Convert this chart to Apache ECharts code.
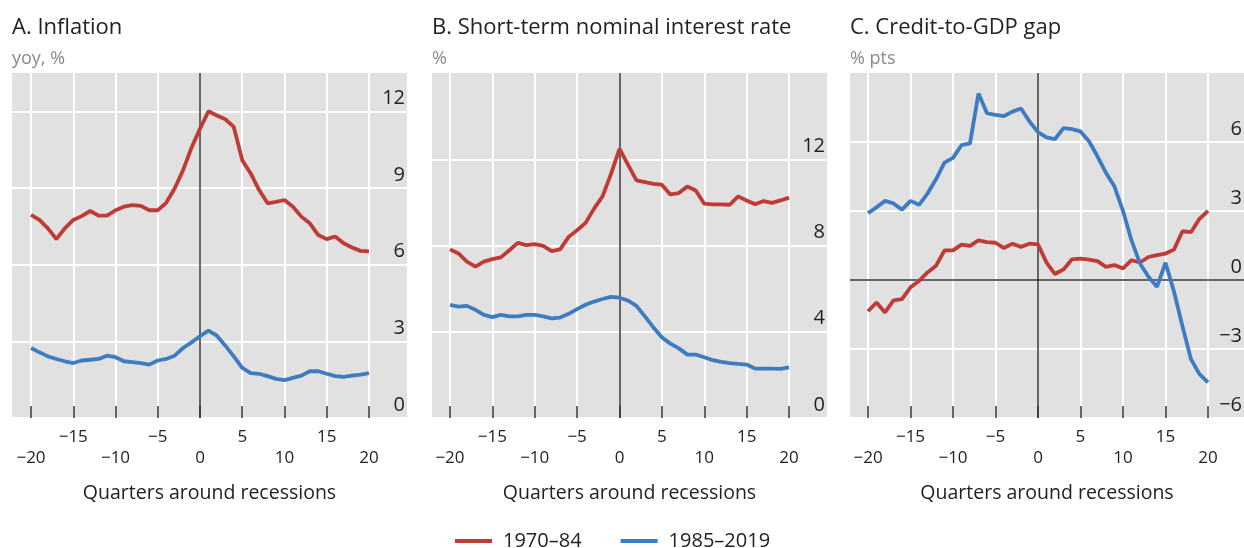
<!DOCTYPE html>
<html><head><meta charset="utf-8">
<script src="https://cdn.jsdelivr.net/npm/echarts@6/dist/echarts.min.js"></script>
<style>html,body{margin:0;padding:0;background:#fff}#c{width:1244px;height:548px}</style>
</head><body><div id="c"></div>
<script>
const quarters = [-20,-19,-18,-17,-16,-15,-14,-13,-12,-11,-10,-9,-8,-7,-6,-5,-4,-3,-2,-1,0,1,2,3,4,5,6,7,8,9,10,11,12,13,14,15,16,17,18,19,20];
const xTicks = [-20,-15,-10,-5,0,5,10,15,20];
const seriesNames = ['1970–84','1985–2019'];
const titles = ['A. Inflation','B. Short-term nominal interest rate','C. Credit-to-GDP gap'];
const units = ['yoy, %','%','% pts'];
const xName = 'Quarters around recessions';

const inflation1970 = [7.95,7.75,7.42,7.0,7.42,7.75,7.9,8.1,7.92,7.92,8.13,8.27,8.33,8.3,8.13,8.13,8.42,8.98,9.7,10.58,11.32,12.0,11.84,11.69,11.39,10.09,9.57,8.92,8.4,8.46,8.53,8.27,7.88,7.62,7.16,7.0,7.1,6.84,6.67,6.54,6.52];
const inflation1985 = [2.74,2.57,2.41,2.31,2.22,2.15,2.25,2.28,2.31,2.44,2.38,2.22,2.19,2.15,2.09,2.25,2.31,2.44,2.74,2.96,3.2,3.42,3.22,2.83,2.41,1.96,1.76,1.73,1.64,1.53,1.48,1.57,1.66,1.83,1.83,1.73,1.64,1.61,1.66,1.7,1.76];
const rate1970 = [7.82,7.63,7.25,7.02,7.25,7.37,7.45,7.78,8.12,8.02,8.06,7.98,7.74,7.82,8.4,8.71,9.05,9.71,10.28,11.32,12.48,11.75,11.02,10.94,10.86,10.82,10.37,10.43,10.74,10.55,9.94,9.91,9.91,9.89,10.28,10.09,9.91,10.06,9.98,10.09,10.22];
const rate1985 = [5.25,5.17,5.2,5.02,4.78,4.68,4.78,4.71,4.71,4.78,4.78,4.71,4.62,4.66,4.83,5.05,5.25,5.4,5.52,5.62,5.58,5.45,5.2,4.71,4.2,3.74,3.45,3.23,2.94,2.94,2.82,2.68,2.6,2.55,2.51,2.48,2.29,2.29,2.29,2.28,2.35];
const credit1970 = [-1.36,-0.98,-1.41,-0.89,-0.83,-0.32,-0.04,0.33,0.62,1.29,1.29,1.54,1.48,1.72,1.65,1.62,1.39,1.58,1.44,1.58,1.55,0.76,0.26,0.46,0.9,0.93,0.89,0.82,0.57,0.65,0.5,0.86,0.76,1.0,1.08,1.15,1.32,2.12,2.08,2.66,3.01];
const credit1985 = [2.91,3.16,3.44,3.33,3.06,3.44,3.27,3.76,4.38,5.1,5.31,5.86,5.94,8.11,7.25,7.18,7.13,7.32,7.46,6.89,6.43,6.2,6.13,6.6,6.56,6.46,6.03,5.38,4.66,4.06,3.01,1.72,0.72,0.14,-0.3,0.75,-0.5,-2.01,-3.44,-4.09,-4.45];

const yTicksA = [0,3,6,9,12];
const yTicksB = [0,4,8,12];
const yTicksC = [-6,-3,0,3,6];

const RED = '#bf3b36', BLUE = '#3e7cc1', INK = '#222', FONT = 'Open Sans';
const fmt = v => (v < 0 ? '\u2212' + Math.abs(v) : String(v));

const panels = [
  {left:12,  width:395, xmin:-22.25, xmax:24.5,  ymin:0,  ymax:13.5, ticks:yTicksA, red:inflation1970, blue:inflation1985, hzero:false},
  {left:432, width:395, xmin:-22.12, xmax:24.48, ymin:0,  ymax:16,   ticks:yTicksB, red:rate1970,      blue:rate1985,      hzero:false},
  {left:850, width:394, xmin:-22.12, xmax:24.24, ymin:-6, ymax:9,    ticks:yTicksC, red:credit1970,    blue:credit1985,    hzero:true}
];

const grid = [], xAxis = [], yAxis = [], series = [], title = [];
panels.forEach((p, i) => {
  grid.push({left:p.left, width:p.width, top:73, height:345, show:true, backgroundColor:'#e1e1e1', borderWidth:0, containLabel:false, outerBoundsMode:'none'});
  title.push({text:titles[i], left:p.left, top:17, padding:0, textStyle:{fontFamily:FONT, fontSize:22, fontWeight:'normal', color:INK}});
  title.push({text:units[i], left:p.left, top:50, padding:0, textStyle:{fontFamily:FONT, fontSize:18, fontWeight:'normal', color:'#8a8a8a'}});
  xAxis.push({
    gridIndex:i, type:'value', min:p.xmin, max:p.xmax,
    axisLine:{show:false, onZero:false},
    axisTick:{show:true, inside:true, length:12, customValues:xTicks, lineStyle:{color:'#333', width:1.5}},
    axisLabel:{customValues:xTicks, formatter:v => (Math.abs(v) % 10 === 5 ? fmt(v) : '\n' + fmt(v)),
      fontFamily:FONT, fontSize:17, color:INK, lineHeight:21, margin:9},
    splitLine:{show:true, lineStyle:{color:'#fff', width:2}},
    name:xName, nameLocation:'middle', nameGap:65,
    nameTextStyle:{fontFamily:FONT, fontSize:19.5, color:INK}
  });
  yAxis.push({
    gridIndex:i, type:'value', position:'right', min:p.ymin, max:p.ymax,
    axisLine:{show:false, onZero:false},
    axisTick:{show:false, customValues:p.ticks},
    axisLabel:{inside:true, customValues:p.ticks, formatter:fmt, fontFamily:FONT, fontSize:20, color:INK, verticalAlign:'bottom', margin:2, padding:[0,0,3,0]},
    splitLine:{show:true, lineStyle:{color:'#fff', width:2}}
  });
  const zeroLines = [{xAxis:0}];
  if (p.hzero) zeroLines.push({yAxis:0});
  series.push({
    type:'line', name:seriesNames[0], xAxisIndex:i, yAxisIndex:i,
    data:quarters.map((q, k) => [q, p.red[k]]),
    symbol:'none', lineStyle:{color:RED, width:3.8}, itemStyle:{color:RED}, z:3,
    markLine:{silent:true, symbol:['none','none'], z:1, animation:false, label:{show:false},
      lineStyle:{color:'#333', type:'solid', width:1.5}, data:zeroLines}
  });
  series.push({
    type:'line', name:seriesNames[1], xAxisIndex:i, yAxisIndex:i,
    data:quarters.map((q, k) => [q, p.blue[k]]),
    symbol:'none', lineStyle:{color:BLUE, width:3.8}, itemStyle:{color:BLUE}, z:3
  });
});

const chart = echarts.init(document.getElementById('c'), null, {renderer:'canvas'});
chart.setOption({
  animation:false,
  backgroundColor:'#fff',
  title, grid, xAxis, yAxis, series,
  legend:{data:seriesNames, left:455, top:531, padding:0, icon:'rect', itemWidth:37, itemHeight:4, itemGap:39,
    textStyle:{fontFamily:FONT, fontSize:20, color:INK, padding:[0,0,0,6]}}
});
</script></body></html>
